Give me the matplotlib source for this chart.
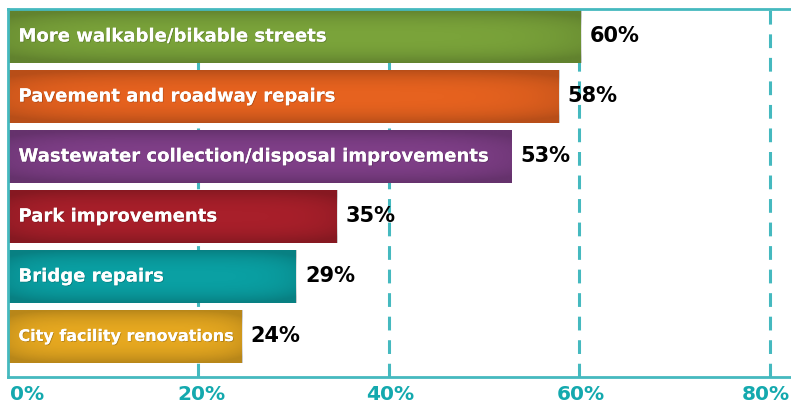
import matplotlib
matplotlib.use("Agg")
import matplotlib.pyplot as plt
import matplotlib.patheffects as pe
import matplotlib.transforms as mtransforms
import numpy as np

categories = ["More walkable/bikable streets", "Pavement and roadway repairs",
              "Wastewater collection/disposal improvements", "Park improvements",
              "Bridge repairs", "City facility renovations"]
values = [60.2, 57.9, 52.9, 34.6, 30.3, 24.6]
value_labels = ["60%", "58%", "53%", "35%", "29%", "24%"]
colors = ["#7aa33a", "#e6621f", "#7f3f88", "#a81f2a", "#0aa0a3", "#e6a820"]
ticks = [0, 20, 40, 60, 80]
tick_labels = ["0%", "20%", "40%", "60%", "80%"]

W, H = 791, 408
fig = plt.figure(figsize=(W/100, H/100), dpi=100)
ax = fig.add_axes([8/W, 1-377/H, 1-8/W, (377-9)/H])
teal = "#45b9bf"
fam = ["DejaVu Sans"]

y = list(range(len(categories)))
for gx in ticks[1:]:
    ax.axvline(gx, color=teal, lw=2.2, linestyle=(0, (4.5, 3.2)), zorder=0)
bh = 0.88
ax.barh(y, values, height=bh, color=colors, zorder=2)

# subtle vignette shading on each bar
uu, vv = np.meshgrid(np.linspace(-1, 1, 200), np.linspace(-1, 1, 60))
for yi, v in zip(y, values):
    a = 0.2 * np.clip(0.5 * np.abs(uu) ** 6 + np.abs(vv) ** 2.5, 0, 1)
    rgba = np.zeros(uu.shape + (4,))
    rgba[..., 3] = a
    ax.imshow(rgba, extent=(0, v, yi + bh/2, yi - bh/2), aspect="auto",
              zorder=2.5, interpolation="bilinear")

ax.set_xlim(0, (W-8)/9.52)
ax.set_ylim(5.675, -0.458)

shadow = [pe.withSimplePatchShadow(offset=(0.6, -0.6), shadow_rgbFace="black", alpha=0.22), pe.Normal()]
renderer = fig.canvas.get_renderer()
for yi, v, c, lab in zip(y, values, categories, value_labels):
    t = ax.text(1.1, yi, c, color="white", fontsize=13, fontweight="bold",
                va="center", ha="left", family=fam, zorder=3, path_effects=shadow)
    # shrink the label if it would run past the bar end
    bar_end_px = ax.transData.transform((v, yi))[0] - 6
    fs = 13
    while t.get_window_extent(renderer).x1 > bar_end_px and fs > 8:
        fs -= 0.25
        t.set_fontsize(fs)
    ax.text(v + 0.9, yi, lab, color="black", fontsize=15, fontweight="bold",
            va="center", ha="left", family=fam, zorder=3)

ax.set_yticks([])
ax.set_xticks(ticks)
ax.set_xticklabels([])
ax.tick_params(axis="x", length=0)
blend = mtransforms.blended_transform_factory(ax.transData, ax.transAxes)
offsets = [(1.5, "left"), (2, "center"), (1, "center"), (1, "center"), (14.5, "right")]
for tk, tl, (dx, ha) in zip(ticks, tick_labels, offsets):
    ax.annotate(tl, xy=(tk, 0), xycoords=blend, xytext=(dx, -6), textcoords="offset points",
                ha=ha, va="top", color="#14a9ae", fontsize=14.5, fontweight="bold",
                family=fam, annotation_clip=False)
for s in ["left", "bottom", "top"]:
    ax.spines[s].set_color(teal)
    ax.spines[s].set_linewidth(2)
ax.spines["right"].set_visible(False)
ax.set_facecolor("white")
fig.savefig("out.png", dpi=100, facecolor="white")
